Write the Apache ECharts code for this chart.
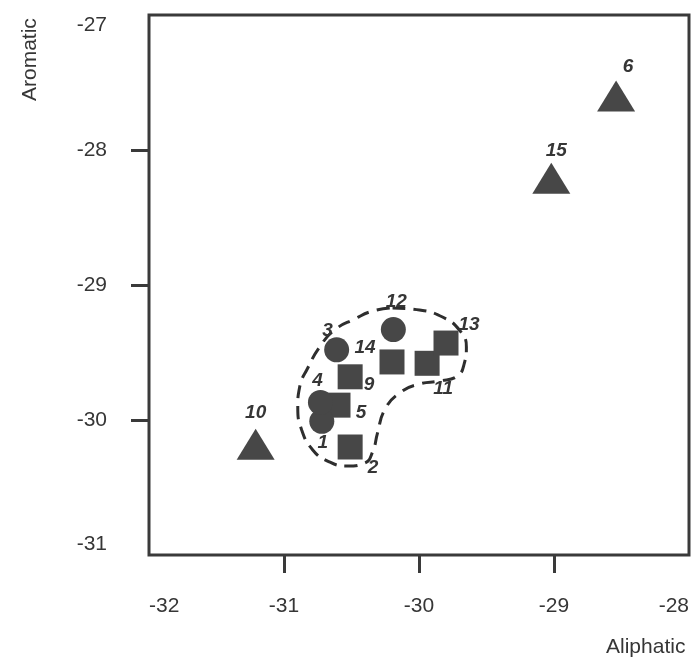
<!DOCTYPE html>
<html>
<head>
<meta charset="utf-8">
<script src="https://cdn.jsdelivr.net/npm/echarts@6/dist/echarts.min.js"></script>
<style>
  html, body { margin: 0; padding: 0; background: #ffffff; }
  #chart { width: 692px; height: 660px; }
</style>
</head>
<body>
<div id="chart"></div>
<script>
// ---- data ----
const circleIds = ['1', '3', '4', '12'];
const circleX = [-30.72, -30.61, -30.73, -30.19];
const circleY = [-30.01, -29.48, -29.87, -29.33];

const squareIds = ['2', '5', '9', '11', '13', '14'];
const squareX = [-30.51, -30.60, -30.51, -29.94, -29.80, -30.20];
const squareY = [-30.20, -29.89, -29.68, -29.58, -29.43, -29.57];

const triangleIds = ['6', '10', '15'];
const triangleX = [-28.54, -31.21, -29.02];
const triangleY = [-27.60, -30.18, -28.21];

// dashed outline around the cluster (data coordinates)
const outlineX = [-30.196, -29.996, -29.826, -29.701, -29.649, -29.664, -29.715, -29.848, -29.996, -30.144,
  -30.255, -30.307, -30.344, -30.403, -30.536, -30.677, -30.787, -30.869, -30.898, -30.884,
  -30.824, -30.736, -30.625, -30.477, -30.344, -30.196];
const outlineY = [-29.170, -29.185, -29.237, -29.333, -29.459, -29.578, -29.674, -29.711, -29.733, -29.800,
  -29.926, -30.096, -30.237, -30.319, -30.341, -30.304, -30.222, -30.074, -29.904, -29.756,
  -29.615, -29.459, -29.333, -29.252, -29.193, -29.170];

const xTickLabels = [-32, -31, -30, -29, -28];
const yTickLabels = [-31, -30, -29, -28, -27];
const xTickMarks = [-31, -30, -29];
const yTickMarks = [-30, -29, -28];

// ---- styling (label offsets in pixels, per id) ----
const labelOffsets = {
  '1': [1, 21], '2': [23, 21], '3': [-9, -19], '4': [-3, -22], '5': [23, 8],
  '6': [12, -29], '9': [19, 8], '10': [0, -32], '11': [16, 25], '12': [3, -28],
  '13': [23, -18], '14': [-27, -14], '15': [5, -28]
};

const ink = '#363636';
const markColor = '#474747';
const font = '"Liberation Sans", Arial, sans-serif';

function build(ids, xs, ys) {
  return ids.map((id, i) => ({
    value: [xs[i], ys[i]],
    name: id,
    label: { offset: labelOffsets[id] || [0, -20] }
  }));
}

const pointLabel = {
  show: true,
  position: 'inside',
  formatter: p => p.name,
  fontFamily: font,
  fontStyle: 'italic',
  fontWeight: 'bold',
  fontSize: 19,
  color: ink
};

const chart = echarts.init(document.getElementById('chart'), null, { renderer: 'canvas' });
chart.setOption({
  animation: false,
  backgroundColor: '#ffffff',
  grid: {
    left: 149, right: 2, top: 15, bottom: 105,
    show: true, borderColor: '#3a3a3a', borderWidth: 3, backgroundColor: 'transparent'
  },
  xAxis: {
    type: 'value', min: -32, max: -28, interval: 1,
    axisLine: { show: false },
    splitLine: { show: false },
    axisTick: { show: true, customValues: xTickMarks, length: 18, lineStyle: { color: '#3a3a3a', width: 3 } },
    axisLabel: {
      customValues: xTickLabels, margin: 41, fontSize: 21, fontFamily: font, color: ink,
      alignMinLabel: 'left', alignMaxLabel: 'right'
    }
  },
  yAxis: {
    type: 'value', min: -31, max: -27, interval: 1,
    axisLine: { show: false },
    splitLine: { show: false },
    axisTick: { show: true, customValues: yTickMarks, length: 18, lineStyle: { color: '#3a3a3a', width: 3 } },
    axisLabel: {
      customValues: yTickLabels, margin: 42, fontSize: 21, fontFamily: font, color: ink,
      verticalAlignMinLabel: 'bottom', verticalAlignMaxLabel: 'top'
    }
  },
  graphic: [
    {
      type: 'text', left: 606, top: 637,
      style: { text: 'Aliphatic', fontSize: 21, fontFamily: font, fill: ink }
    },
    {
      type: 'text', x: 20, y: 101, rotation: Math.PI / 2,
      style: { text: 'Aromatic', fontSize: 21, fontFamily: font, fill: ink }
    }
  ],
  series: [
    {
      type: 'line', smooth: 0.5, showSymbol: false, silent: true,
      data: outlineX.map((x, i) => [x, outlineY[i]]),
      lineStyle: { color: '#2e2e2e', width: 3, type: [13, 8] },
      z: 1
    },
    {
      type: 'scatter', symbol: 'rect', symbolSize: 25,
      itemStyle: { color: markColor, opacity: 1 },
      label: pointLabel,
      data: build(squareIds, squareX, squareY), z: 3
    },
    {
      type: 'scatter', symbol: 'circle', symbolSize: 25,
      itemStyle: { color: markColor, opacity: 1 },
      label: pointLabel,
      data: build(circleIds, circleX, circleY), z: 4
    },
    {
      type: 'scatter', symbol: 'triangle', symbolSize: [38, 31],
      itemStyle: { color: markColor, opacity: 1 },
      label: pointLabel,
      data: build(triangleIds, triangleX, triangleY), z: 3
    }
  ]
});
</script>
</body>
</html>
